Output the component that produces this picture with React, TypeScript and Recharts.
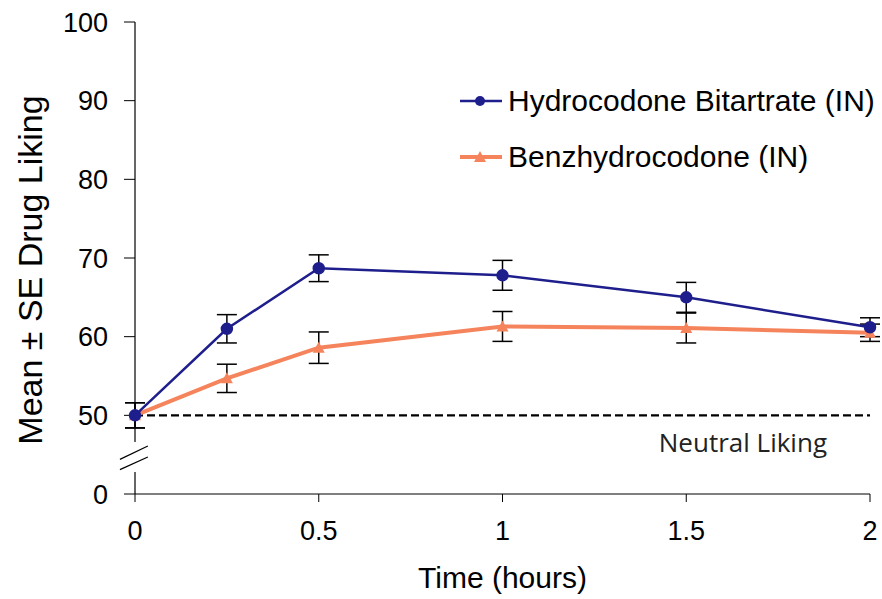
import React from "react";
import {
  LineChart,
  Line,
  XAxis,
  YAxis,
  ErrorBar,
  ReferenceLine,
  Label,
} from "recharts";

// time points (hours)
const times = [0, 0.25, 0.5, 1, 1.5, 2];
const hydrocodone = [50, 61, 68.7, 67.8, 65, 61.2];
const hydrocodoneSE = [1.6, 1.8, 1.7, 1.9, 1.9, 1.2];
const benzhydrocodone = [50, 54.7, 58.6, 61.3, 61.1, 60.5];
const benzhydrocodoneSE = [1.6, 1.8, 2.0, 1.9, 1.9, 1.1];

const xTicks = [0, 0.5, 1, 1.5, 2];
// 40 is drawn as the broken-axis "0"
const yTicks = [40, 50, 60, 70, 80, 90, 100];

const data = times.map((t, i) => ({
  t,
  hydro: hydrocodone[i],
  hydroErr: hydrocodoneSE[i],
  benz: benzhydrocodone[i],
  benzErr: benzhydrocodoneSE[i],
}));

const NAVY = "#1e1e8c";
const ORANGE = "#f5845c";
const axisFont = "'Liberation Sans', Arial, sans-serif";

const Triangle = (props: any) => {
  const { cx, cy } = props;
  if (cx == null || cy == null) return null;
  return (
    <polygon
      points={`${cx},${cy - 6} ${cx - 6},${cy + 5} ${cx + 6},${cy + 5}`}
      fill={ORANGE}
    />
  );
};

const YTitle = (props: any) => {
  const { x, y, height } = props.viewBox;
  const cx = x + 30;
  const cy = y + height / 2 + 12;
  return (
    <text
      x={cx}
      y={cy}
      transform={`rotate(-90 ${cx} ${cy})`}
      textAnchor="middle"
      dominantBaseline="central"
      fill="#000"
      fontSize={34}
      fontFamily={axisFont}
    >
      Mean ± SE Drug Liking
    </text>
  );
};

const NeutralLabel = (props: any) => {
  const { x, y, width } = props.viewBox;
  return (
    <text
      x={x + width - 43}
      y={y + 37}
      textAnchor="end"
      fill="#222"
      fontSize={26}
      fontFamily="'Open Sans', sans-serif"
    >
      Neutral Liking
    </text>
  );
};

const LegendBox = () => (
  <div
    style={{
      position: "absolute",
      left: 458,
      top: 84,
      fontFamily: axisFont,
      fontSize: 30,
      color: "#000",
      lineHeight: "34px",
    }}
  >
    <div style={{ display: "flex", alignItems: "center", height: 34 }}>
      <svg width={50} height={20}>
        <line x1={2} y1={10} x2={44} y2={10} stroke={NAVY} strokeWidth={2.5} />
        <circle cx={22} cy={10} r={5} fill={NAVY} />
      </svg>
      <span>Hydrocodone Bitartrate (IN)</span>
    </div>
    <div style={{ display: "flex", alignItems: "center", height: 34, marginTop: 22 }}>
      <svg width={50} height={20}>
        <line x1={2} y1={10} x2={44} y2={10} stroke={ORANGE} strokeWidth={4} />
        <polygon points="22,4 16,15 28,15" fill={ORANGE} />
      </svg>
      <span>Benzhydrocodone (IN)</span>
    </div>
  </div>
);

export default function App() {
  return (
    <div style={{ position: "absolute", left: 0, top: 0, width: 882, height: 599, background: "#fff" }}>
      <LineChart
        width={882}
        height={599}
        data={data}
        margin={{ top: 22, right: 12, bottom: 0, left: 0 }}
      >
        <XAxis
          dataKey="t"
          type="number"
          domain={[0, 2]}
          ticks={xTicks}
          tickSize={8}
          height={105}
          stroke="#000"
          tick={{ fill: "#000", fontSize: 27, fontFamily: axisFont }}
          tickMargin={19}
        >
          <Label
            value="Time (hours)"
            position="center"
            dy={31}
            style={{ fill: "#000", fontSize: 30, fontFamily: axisFont }}
          />
        </XAxis>
        <YAxis
          type="number"
          domain={[40, 100]}
          ticks={yTicks}
          interval={0}
          width={135}
          tickSize={11}
          axisLine={false}
          stroke="#000"
          tickFormatter={(v: number) => (v === 40 ? "0" : String(v))}
          tick={{ fill: "#000", fontSize: 27, fontFamily: axisFont }}
          tickMargin={16}
        >
          <Label content={<YTitle />} />
        </YAxis>
        {/* broken y axis */}
        <ReferenceLine
          segment={[{ x: 0, y: 100 }, { x: 0, y: 46.6 }]}
          stroke="#000"
          strokeWidth={1.2}
        />
        <ReferenceLine
          segment={[{ x: 0, y: 42.8 }, { x: 0, y: 40 }]}
          stroke="#000"
          strokeWidth={1.2}
        />
        <ReferenceLine
          segment={[{ x: -0.041, y: 44.4 }, { x: 0.035, y: 46.1 }]}
          stroke="#000"
          strokeWidth={1.2}
          ifOverflow="visible"
        />
        <ReferenceLine
          segment={[{ x: -0.041, y: 43.1 }, { x: 0.035, y: 44.7 }]}
          stroke="#000"
          strokeWidth={1.2}
          ifOverflow="visible"
        />
        <ReferenceLine
          y={50}
          stroke="#000"
          strokeWidth={2.2}
          strokeDasharray="8 4"
        >
          <Label content={<NeutralLabel />} />
        </ReferenceLine>
        <Line
          dataKey="benz"
          name="Benzhydrocodone (IN)"
          stroke={ORANGE}
          strokeWidth={4}
          dot={<Triangle />}
          isAnimationActive={false}
        >
          <ErrorBar dataKey="benzErr" width={10} stroke="#000" strokeWidth={1.5} direction="y" />
        </Line>
        <Line
          dataKey="hydro"
          name="Hydrocodone Bitartrate (IN)"
          stroke={NAVY}
          strokeWidth={2.5}
          dot={{ r: 5, fill: NAVY, stroke: NAVY }}
          isAnimationActive={false}
        >
          <ErrorBar dataKey="hydroErr" width={10} stroke="#000" strokeWidth={1.5} direction="y" />
        </Line>
      </LineChart>
      <LegendBox />
    </div>
  );
}
